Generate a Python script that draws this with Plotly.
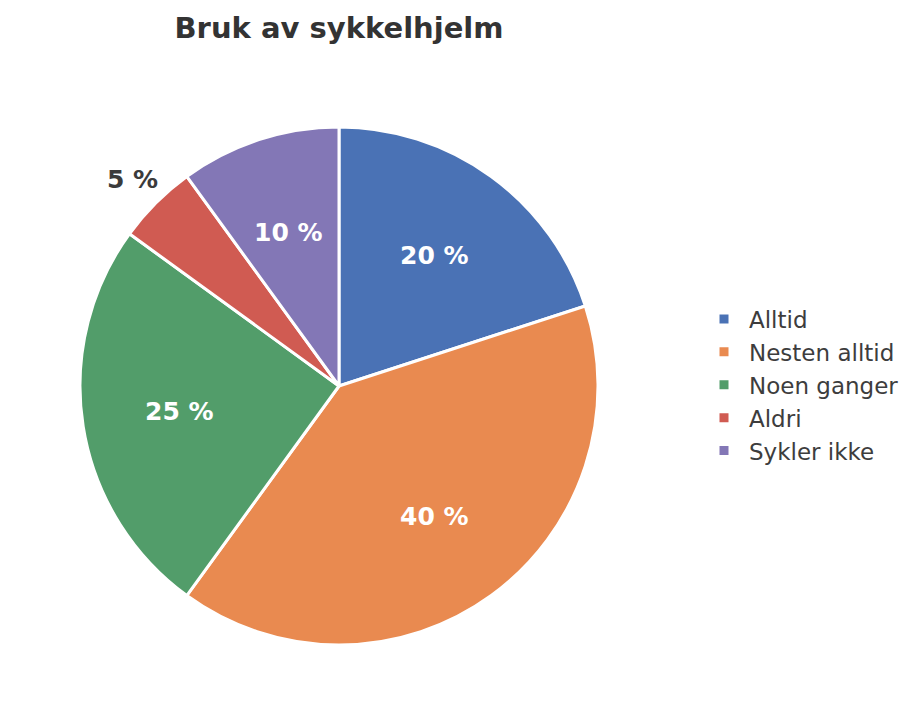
import math
import plotly.graph_objects as go

labels = ["Alltid", "Nesten alltid", "Noen ganger", "Aldri", "Sykler ikke"]
values = [20, 40, 25, 5, 10]

# styles (kept separate from the data)
colors = ["#4A72B5", "#E98A50", "#529D6A", "#D05B52", "#8377B6"]
label_dist = [0.625, 0.625, 0.625, 1.125, 0.625]   # fraction of radius
label_color = ["white", "white", "white", "#3b3b3b", "white"]

W, H = 921, 726
cx, cy, r = 339, 386, 259

fig = go.Figure(go.Pie(
    labels=labels,
    values=values,
    sort=False,
    direction="clockwise",
    rotation=0,
    marker=dict(colors=colors, line=dict(color="white", width=3)),
    textinfo="none",
    hoverinfo="label+percent",
    domain=dict(x=[(cx - r) / W, (cx + r) / W], y=[(H - cy - r) / H, (H - cy + r) / H]),
))

# percentage labels positioned at the mid-angle of each slice (derived from the values)
total = sum(values)
cum = 0
for v, d, col in zip(values, label_dist, label_color):
    mid = (cum + v / 2) / total * 2 * math.pi  # clockwise from 12 o'clock
    cum += v
    px = cx + r * d * math.sin(mid)
    py = cy - r * d * math.cos(mid)
    fig.add_annotation(
        x=px / W, y=1 - py / H, xref="paper", yref="paper",
        text=f"{v} %", showarrow=False, xanchor="center", yanchor="middle",
        font=dict(family="DejaVu Sans", size=25, color=col, weight="bold"),
    )

fig.update_layout(
    width=W, height=H,
    margin=dict(l=0, r=0, t=0, b=0),
    paper_bgcolor="white",
    title=dict(text="<b>Bruk av sykkelhjelm</b>", x=cx / W, xanchor="center",
               y=1 - 28 / H, yanchor="middle",
               font=dict(family="DejaVu Sans", size=29, color="#333333")),
    legend=dict(x=699 / W, xanchor="left", y=1 - 385 / H, yanchor="middle",
                font=dict(family="DejaVu Sans", size=23, color="#3d3d3d"),
                itemwidth=40),
    showlegend=True,
)

fig.write_html("out.html")
